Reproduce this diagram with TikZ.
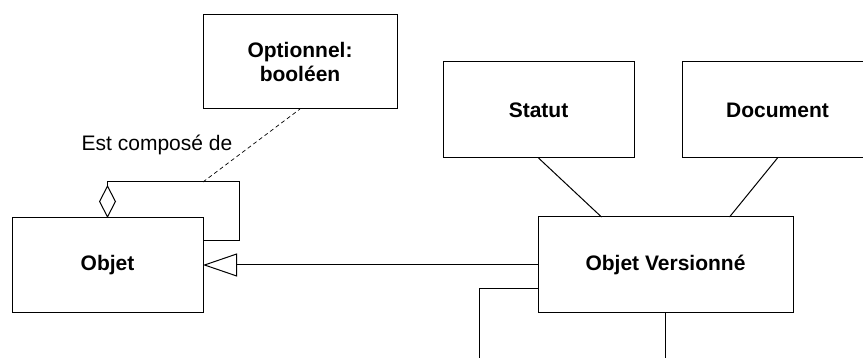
\documentclass[tikz,border=0pt]{standalone}
\usepackage{fontspec}
\setmainfont{Liberation Sans}
\usetikzlibrary{arrows.meta}
\tikzset{
  classbox/.style={draw, line width=1pt, outer sep=0pt, inner sep=2pt,
    minimum width=191pt, minimum height=96pt, align=center,
    font=\fontsize{21}{24.5}\selectfont\bfseries},
  link/.style={line width=1pt},
  compos/.style={link, {Diamond[open, length=33pt, width=17pt]}-},
  inherit/.style={link, -{Triangle[open, length=34pt, width=23pt]}},
}
\begin{document}
\begin{tikzpicture}[x=1pt, y=-1pt]
    \clip (0,0) rectangle (863,358);
    \fill[white] (0,0) rectangle (863,358);
    % Classes
    \node[classbox, minimum height=95pt] (objet) at (107.5,265.5) {Objet};
    \node[classbox, minimum width=194pt, minimum height=94pt] (option) at (300,62) {Optionnel:\\booléen};
    \node[classbox] (statut) at (538.5,110) {Statut};
    \node[classbox] (document) at (777.5,110) {Document};
    \node[classbox, minimum width=255pt] (objversion) at (665.5,265) {Objet Versionné};
    % Composition loop on Objet
    \coordinate (loopTop) at ([yshift=36pt]objet.north east);
    \draw[compos] (objet.north) |- ([xshift=36pt]loopTop) |- ([yshift=-23pt]objet.north east);
    \node[font=\fontsize{21}{24.5}\selectfont] (estcompose) at (157,145) {Est composé de};
    \draw[link, line width=0.7pt, dash pattern=on 4pt off 3pt] (loopTop) -- (option.south);
    % Inheritance
    \draw[inherit] (objversion.west) -- (objversion.west -| objet.east);
    % Associations
    \draw[link] (statut.south) -- ([xshift=-64pt]objversion.north);
    \draw[link] (document.south) -- ([xshift=64pt]objversion.north);
    % Lines leaving below
    \coordinate (bendLeft) at (479,289);
    \coordinate (outLeft) at (479,358);
    \coordinate (outDown) at (objversion.south |- outLeft);
    \draw[link] ([yshift=-24pt]objversion.west) -- (bendLeft) -- (outLeft);
    \draw[link] (objversion.south) -- (outDown);
\end{tikzpicture}
\end{document}
